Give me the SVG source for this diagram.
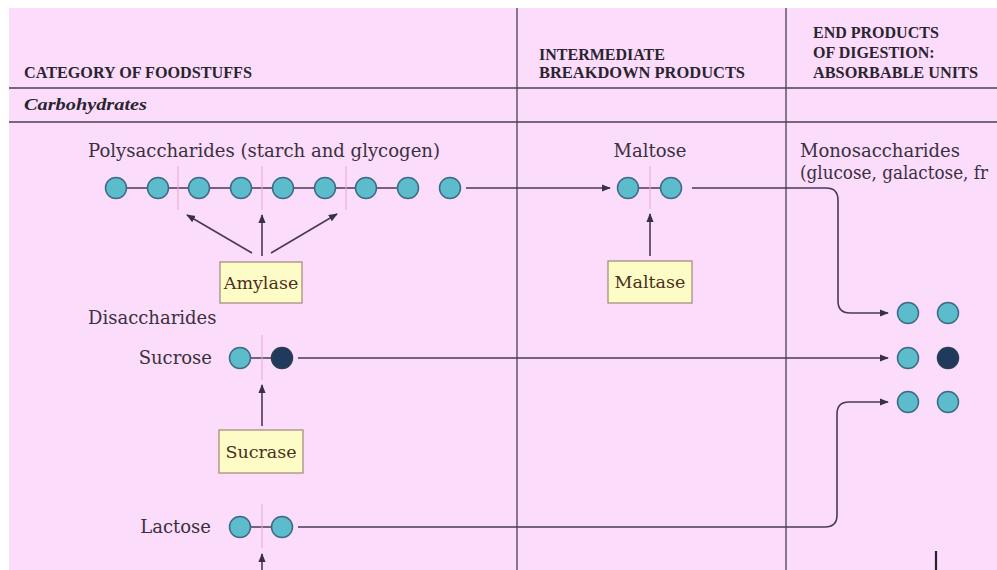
<svg xmlns="http://www.w3.org/2000/svg" width="997" height="570" viewBox="0 0 997 570">
<defs>
<style>
.bg{fill:#fcdcfb}
.rule{stroke:#4a4050;stroke-width:1.3;fill:none}
.hdr{font-family:"Liberation Serif",serif;font-weight:bold;font-size:16px;fill:#2a2430}
.cat{font-family:"Liberation Serif",serif;font-weight:bold;font-style:italic;font-size:17px;fill:#2a2430}
.lbl{font-family:"DejaVu Serif","Liberation Serif",serif;font-size:18px;fill:#3a3040}
.enz{font-family:"DejaVu Serif","Liberation Serif",serif;font-size:17.5px;fill:#4a3020;text-anchor:middle}
.box{fill:#fdfbc6;stroke:#a08878;stroke-width:1.2}
.g{fill:#5dbccc;stroke:#3d6a84;stroke-width:1.5}
.d{fill:#1f3a5a;stroke:#2a3d55;stroke-width:1.5}
.bond{stroke:#4a3a55;stroke-width:1.6}
.cut{stroke:#e8a8c8;stroke-width:1}
.conn{stroke:#4a3a55;stroke-width:1.6;fill:none}
</style>
<marker id="ah" viewBox="0 0 10 10" refX="9" refY="5" markerWidth="9" markerHeight="9" markerUnits="userSpaceOnUse" orient="auto">
<path d="M0,1 L10,5 L0,9 z" fill="#3a2f48"/>
</marker>
</defs>
<rect x="0" y="0" width="997" height="570" fill="#ffffff"/>
<rect class="bg" x="9" y="8" width="988" height="562"/>
<g id="table">
<line class="rule" x1="517" y1="8" x2="517" y2="570"/>
<line class="rule" x1="786" y1="8" x2="786" y2="570"/>
<line class="rule" x1="9" y1="88" x2="997" y2="88"/>
<line class="rule" x1="9" y1="122" x2="997" y2="122"/>
<text class="hdr" x="24" y="78" textLength="228" lengthAdjust="spacingAndGlyphs">CATEGORY OF FOODSTUFFS</text>
<text class="hdr" x="539" y="60">INTERMEDIATE</text>
<text class="hdr" x="539" y="78" textLength="206" lengthAdjust="spacingAndGlyphs">BREAKDOWN PRODUCTS</text>
<text class="hdr" x="813" y="38">END PRODUCTS</text>
<text class="hdr" x="813" y="58">OF DIGESTION:</text>
<text class="hdr" x="813" y="78" textLength="165" lengthAdjust="spacingAndGlyphs">ABSORBABLE UNITS</text>
<text class="cat" x="24" y="110" textLength="123" lengthAdjust="spacingAndGlyphs">Carbohydrates</text>
</g>
<g id="connectors">
<line class="conn" x1="466" y1="188" x2="610" y2="188" marker-end="url(#ah)"/>
<path class="conn" d="M692,188 H826 Q838,188 838,200 V301 Q838,313 850,313 H888" marker-end="url(#ah)"/>
<line class="conn" x1="298" y1="358" x2="888" y2="358" marker-end="url(#ah)"/>
<path class="conn" d="M298,527 H825 Q837,527 837,515 V414 Q837,402 849,402 H888" marker-end="url(#ah)"/>
<line class="conn" x1="252" y1="253" x2="187" y2="215" marker-end="url(#ah)"/>
<line class="conn" x1="262" y1="256" x2="262" y2="215" marker-end="url(#ah)"/>
<line class="conn" x1="271" y1="253" x2="337" y2="214" marker-end="url(#ah)"/>
<line class="conn" x1="650" y1="256" x2="650" y2="214" marker-end="url(#ah)"/>
<line class="conn" x1="262" y1="426" x2="262" y2="385" marker-end="url(#ah)"/>
<line class="conn" x1="262" y1="575" x2="262" y2="554" marker-end="url(#ah)"/>
<line x1="936" y1="551" x2="936" y2="570" stroke="#2a2430" stroke-width="2.2"/>
</g>
<g id="polysaccharides">
<text class="lbl" x="88" y="157" textLength="352" lengthAdjust="spacingAndGlyphs">Polysaccharides (starch and glycogen)</text>
<line class="bond" x1="116" y1="188" x2="408" y2="188"/>
<line class="cut" x1="178" y1="166" x2="178" y2="210"/>
<line class="cut" x1="262" y1="166" x2="262" y2="210"/>
<line class="cut" x1="346" y1="166" x2="346" y2="210"/>
<circle class="g" cx="116" cy="188" r="10.5"/>
<circle class="g" cx="158" cy="188" r="10.5"/>
<circle class="g" cx="199" cy="188" r="10.5"/>
<circle class="g" cx="241" cy="188" r="10.5"/>
<circle class="g" cx="283" cy="188" r="10.5"/>
<circle class="g" cx="325" cy="188" r="10.5"/>
<circle class="g" cx="366" cy="188" r="10.5"/>
<circle class="g" cx="408" cy="188" r="10.5"/>
<circle class="g" cx="450" cy="188" r="10.5"/>
</g>
<g id="amylase">
<rect class="box" x="220" y="262" width="82" height="41"/>
<text class="enz" x="261" y="289">Amylase</text>
</g>
<g id="maltose">
<text class="lbl" x="650" y="157" text-anchor="middle">Maltose</text>
<line class="bond" x1="628" y1="188" x2="671" y2="188"/>
<line class="cut" x1="650" y1="166" x2="650" y2="209"/>
<circle class="g" cx="628" cy="188" r="10.5"/>
<circle class="g" cx="671" cy="188" r="10.5"/>
</g>
<g id="maltase">
<rect class="box" x="608" y="261" width="84" height="42"/>
<text class="enz" x="650" y="288">Maltase</text>
</g>
<g id="monosaccharides">
<text class="lbl" x="800" y="157">Monosaccharides</text>
<text class="lbl" x="800" y="179" textLength="188" lengthAdjust="spacingAndGlyphs">(glucose, galactose, fr</text>
<circle class="g" cx="908" cy="313" r="10.5"/>
<circle class="g" cx="948" cy="313" r="10.5"/>
<circle class="g" cx="908" cy="358" r="10.5"/>
<circle class="d" cx="948" cy="358" r="10.5"/>
<circle class="g" cx="908" cy="402" r="10.5"/>
<circle class="g" cx="948" cy="402" r="10.5"/>
</g>
<g id="disaccharides">
<text class="lbl" x="88" y="324">Disaccharides</text>
</g>
<g id="sucrose">
<text class="lbl" x="212" y="364" text-anchor="end">Sucrose</text>
<line class="bond" x1="240" y1="358" x2="282" y2="358"/>
<line class="cut" x1="262" y1="335" x2="262" y2="380"/>
<circle class="g" cx="240" cy="358" r="10.5"/>
<circle class="d" cx="282" cy="358" r="10.5"/>
</g>
<g id="sucrase">
<rect class="box" x="219" y="430" width="84" height="43"/>
<text class="enz" x="261" y="458">Sucrase</text>
</g>
<g id="lactose">
<text class="lbl" x="211" y="533" text-anchor="end">Lactose</text>
<line class="bond" x1="240" y1="527" x2="282" y2="527"/>
<line class="cut" x1="262" y1="504" x2="262" y2="548"/>
<circle class="g" cx="240" cy="527" r="10.5"/>
<circle class="g" cx="282" cy="527" r="10.5"/>
</g>
</svg>
